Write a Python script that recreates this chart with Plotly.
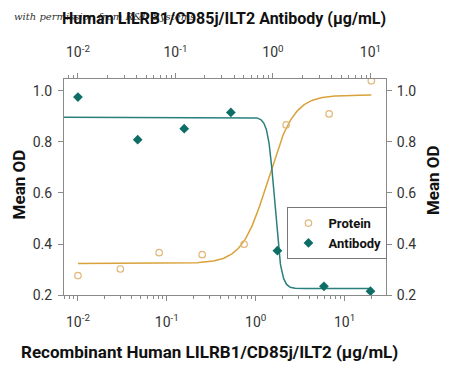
import numpy as np
import plotly.graph_objects as go

# ---- data ----
protein_conc = [0.01, 0.03, 0.082, 0.25, 0.74, 2.2, 6.7, 20.0]          # bottom axis, ug/mL
protein_od = [0.276, 0.302, 0.366, 0.358, 0.399, 0.867, 0.910, 1.040]
antibody_conc = [0.01, 0.041, 0.123, 0.37, 1.11, 3.33, 10.0]              # top axis, ug/mL
antibody_od = [0.976, 0.809, 0.852, 0.916, 0.374, 0.234, 0.215]

# 4-parameter logistic fit parameters (value at low conc, value at high conc, EC50, hill)
protein_fit = dict(low=0.324, high=0.984, ec50=1.38, hill=3.0)
antibody_fit = dict(low=0.897, high=0.225, ec50=1.04, hill=13.0)

decade_vals = [0.01, 0.1, 1, 10]
decade_text = ["10<sup>-2</sup>", "10<sup>-1</sup>", "10<sup>0</sup>", "10<sup>1</sup>"]
y_ticks = [0.2, 0.4, 0.6, 0.8, 1.0]


def four_pl(x, p):
    x = np.asarray(x, dtype=float)
    return p["low"] + (p["high"] - p["low"]) / (1 + (p["ec50"] / x) ** p["hill"])


prot_x = np.logspace(np.log10(protein_conc[0]), np.log10(protein_conc[-1]), 300)
ab_x = np.logspace(np.log10(0.0072), np.log10(antibody_conc[-1]), 800)

FONT = "Roboto, sans-serif"
C_PROT_LINE = "#D9A23A"
C_PROT_MK = "#E2B77A"
C_AB = "#0E6E66"
C_AB_LINE = "#2A7F7C"
AXC = "#8a8a8a"

minor_vals = [m * 10 ** e for e in range(-3, 2) for m in range(2, 10)]

fig = go.Figure()
fig.add_trace(go.Scatter(x=prot_x, y=four_pl(prot_x, protein_fit), mode="lines",
                         line=dict(color=C_PROT_LINE, width=1.5), showlegend=False,
                         xaxis="x", yaxis="y", hoverinfo="skip"))
fig.add_trace(go.Scatter(x=ab_x, y=four_pl(ab_x, antibody_fit), mode="lines",
                         line=dict(color=C_AB_LINE, width=1.5), showlegend=False,
                         xaxis="x2", yaxis="y", hoverinfo="skip"))
fig.add_trace(go.Scatter(x=protein_conc, y=protein_od, mode="markers", name="Protein",
                         marker=dict(symbol="circle-open", size=6.5, color=C_PROT_MK,
                                     line=dict(width=1.2, color=C_PROT_MK)),
                         xaxis="x", yaxis="y"))
fig.add_trace(go.Scatter(x=antibody_conc, y=antibody_od, mode="markers", name="Antibody",
                         marker=dict(symbol="diamond", size=7.5, color=C_AB),
                         xaxis="x2", yaxis="y"))
# invisible trace to activate right y axis
fig.add_trace(go.Scatter(x=[protein_conc[0]], y=[protein_od[0]], mode="markers",
                         marker=dict(opacity=0), showlegend=False, xaxis="x", yaxis="y2",
                         hoverinfo="skip"))

common_x = dict(type="log", showgrid=False, zeroline=False, showline=True, linecolor=AXC,
                linewidth=1, ticks="outside", ticklen=5, tickcolor=AXC,
                tickmode="array", tickvals=decade_vals, ticktext=decade_text,
                tickfont=dict(family=FONT, size=14, color="#333"),
                minor=dict(tickmode="array", tickvals=minor_vals, ticks="outside",
                           ticklen=3, tickcolor=AXC))
common_y = dict(range=[0.2, 1.047], showgrid=False, zeroline=False, showline=True,
                linecolor=AXC, linewidth=1, ticks="outside", ticklen=5, tickcolor=AXC,
                tickmode="array", tickvals=y_ticks, ticktext=[f"{v:.1f}" for v in y_ticks],
                tickfont=dict(family=FONT, size=14, color="#333"))

fig.update_layout(
    width=442, height=358,
    margin=dict(l=56, r=63.5, t=71, b=71),
    paper_bgcolor="white", plot_bgcolor="white",
    font=dict(family=FONT, color="#222"),
    xaxis=dict(**common_x, range=[-2.157, 1.466], ticklabelstandoff=9),
    xaxis2=dict(**common_x, range=[-2.143, 1.159], overlaying="x", side="top",
                ticklabelstandoff=10),
    yaxis=dict(**common_y, ticklabelstandoff=3),
    yaxis2=dict(**common_y, overlaying="y", side="right", ticklabelstandoff=2),
    legend=dict(x=0.694, y=0.407, xanchor="left", yanchor="top",
                bgcolor="white", bordercolor="#777", borderwidth=1,
                font=dict(family=FONT, size=13, color="#111", weight="bold"),
                tracegroupgap=0),
    showlegend=True,
)

fig.add_annotation(text="with permission from R&D Systems", xref="paper", yref="paper",
                   x=-0.161, y=1.29, xanchor="left", yanchor="middle", showarrow=False,
                   font=dict(family="DejaVu Serif, serif", size=10, color="#333", style="italic"))
fig.add_annotation(text="Human LILRB1/CD85j/ILT2 Antibody (µg/mL)", xref="paper", yref="paper",
                   x=0.496, y=1.282, xanchor="center", yanchor="middle", showarrow=False,
                   font=dict(family=FONT, size=16, color="#111", weight="bold"))
fig.add_annotation(text="Recombinant Human LILRB1/CD85j/ILT2 (µg/mL)", xref="paper", yref="paper",
                   x=0.453, y=-0.264, xanchor="center", yanchor="middle", showarrow=False,
                   font=dict(family=FONT, size=17, color="#111", weight="bold"))
fig.add_annotation(text="Mean OD", xref="paper", yref="paper", x=-0.141, y=0.51,
                   xanchor="center", yanchor="middle", textangle=-90, showarrow=False,
                   font=dict(family=FONT, size=17, color="#111", weight="bold"))
fig.add_annotation(text="Mean OD", xref="paper", yref="paper", x=1.146, y=0.532,
                   xanchor="center", yanchor="middle", textangle=-90, showarrow=False,
                   font=dict(family=FONT, size=17, color="#111", weight="bold"))

fig.write_html("out.html")
